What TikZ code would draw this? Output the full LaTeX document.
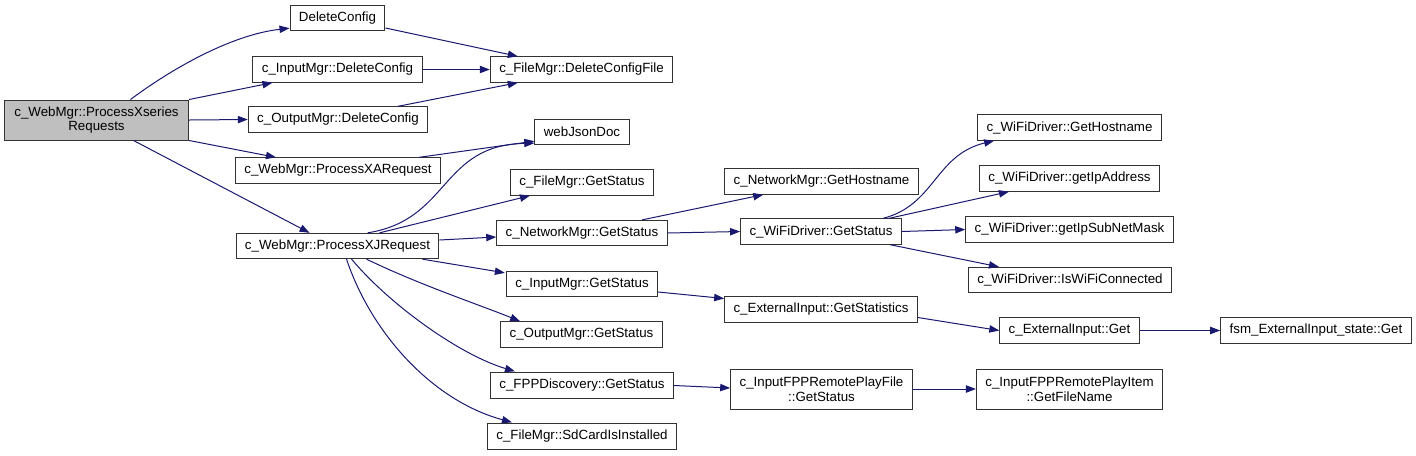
\documentclass[tikz,border=0pt]{standalone}
\usepackage{fontspec}
\setmainfont{Liberation Sans}
\usepackage{tikz}
\usetikzlibrary{arrows.meta, calc}
\definecolor{edgeblue}{HTML}{191970}

\begin{document}
\begin{tikzpicture}[x=0.75pt, y=-0.75pt]
\tikzstyle{func} = [rectangle, draw=black!80, line width=0.75pt, fill=white, font=\fontsize{10}{11}\selectfont, inner xsep=6.7pt, inner ysep=0pt, minimum height=19pt, align=center]
\tikzstyle{rootfunc} = [func, fill=black!25, minimum height=30pt, inner xsep=7.5pt]
\tikzstyle{twoline} = [minimum height=30pt]
\tikzstyle{call} = [draw=edgeblue, line width=0.75pt, -{Triangle[length=7.5pt, width=5.5pt]}]

\useasboundingbox (0,0) rectangle (1416,455);

% first column
\node (root) [rootfunc] at (96.5,120) {c\_WebMgr::ProcessXseries\\Requests};

% second column
\node (dc) [func] at (337.5,18) {DeleteConfig};
\node (imdc) [func] at (337.5,69.5) {c\_InputMgr::DeleteConfig};
\node (omdc) [func] at (338,119.5) {c\_OutputMgr::DeleteConfig};
\node (xa) [func] at (338,170.5) {c\_WebMgr::ProcessXARequest};
\node (xj) [func] at (337.5,246) {c\_WebMgr::ProcessXJRequest};

% third column
\node (dcf) [func] at (581.5,69.5) {c\_FileMgr::DeleteConfigFile};
\node (json) [func] at (582,132) {webJsonDoc};
\node (fmgs) [func] at (582,182.5) {c\_FileMgr::GetStatus};
\node (nmgs) [func] at (582,233) {c\_NetworkMgr::GetStatus};
\node (imgs) [func] at (582,284) {c\_InputMgr::GetStatus};
\node (omgs) [func] at (581.5,334.5) {c\_OutputMgr::GetStatus};
\node (fppgs) [func] at (582,385.5) {c\_FPPDiscovery::GetStatus};
\node (sd) [func] at (582,436.5) {c\_FileMgr::SdCardIsInstalled};

% fourth column
\node (nmgh) [func] at (821.5,181.5) {c\_NetworkMgr::GetHostname};
\node (wfgs) [func] at (821,231.5) {c\_WiFiDriver::GetStatus};
\node (gstat) [func] at (821,309.5) {c\_ExternalInput::GetStatistics};
\node (rpf) [func, twoline] at (821.5,389) {c\_InputFPPRemotePlayFile\\::GetStatus};

% fifth column
\node (wgh) [func] at (1069.5,127.5) {c\_WiFiDriver::GetHostname};
\node (wip) [func] at (1069.5,178.5) {c\_WiFiDriver::getIpAddress};
\node (wsub) [func] at (1069.5,229.5) {c\_WiFiDriver::getIpSubNetMask};
\node (wcon) [func] at (1070,280) {c\_WiFiDriver::IsWiFiConnected};
\node (eig) [func] at (1069.5,330.5) {c\_ExternalInput::Get};
\node (rpi) [func, twoline] at (1069.5,389) {c\_InputFPPRemotePlayItem\\::GetFileName};

% last column
\node (fsm) [func] at (1316,330.5) {fsm\_ExternalInput\_state::Get};

% calls from the root
\draw [call] ($(root.north)+(34,0)$) .. controls (170,70) and (230,35) .. ($(dc.south west)+(0,-3)$);
\draw [call] (root.north east) -- ($(imdc.south west)+(20,0)$);
\draw [call] (root.east) -- (omdc.west);
\draw [call] (root.south east) -- ($(xa.north west)+(41,0)$);
\draw [call] ($(root.south)+(37,0)$) -- ($(xj.north west)+(74,0)$);

% delete config
\draw [call] ($(dc.east)+(0,10)$) -- ($(dcf.north west)+(28,0)$);
\draw [call] (imdc.east) -- (dcf.west);
\draw [call] ($(omdc.north west)+(150,0)$) -- ($(dcf.south west)+(28,0)$);

% status requests
\draw [call] ($(xa.north west)+(184,0)$) -- ($(json.south west)+(0,-4)$);
\draw [call] ($(xj.north west)+(132,0)$) .. controls (450,220) and (440,145) .. ($(json.south west)+(0,-2)$);
\draw [call] ($(xj.north west)+(144,0)$) -- ($(fmgs.south west)+(20,0)$);
\draw [call] ($(xj.east)+(0,-6)$) -- ($(nmgs.west)+(0,4)$);
\draw [call] ($(xj.south east)+(-17,0)$) -- ($(imgs.north west)+(-1,2)$);
\draw [call] ($(xj.south west)+(131,0)$) .. controls (420,285) and (480,305) .. ($(omgs.north west)+(20,0)$);
\draw [call] ($(xj.south west)+(116,0)$) .. controls (390,305) and (460,355) .. ($(fppgs.north west)+(25,-1)$);
\draw [call] ($(xj.south west)+(111,0)$) .. controls (370,330) and (430,400) .. ($(sd.north west)+(25,-1)$);

% network and wifi
\draw [call] ($(nmgs.north west)+(146,0)$) -- ($(nmgh.south west)+(39,0)$);
\draw [call] (nmgs.east) -- (wfgs.west);
\draw [call] ($(wfgs.north west)+(143,0)$) .. controls (935,205) and (935,155) .. ($(wgh.south west)+(17,0)$);
\draw [call] ($(wfgs.north west)+(149,0)$) -- ($(wip.south west)+(30,0)$);
\draw [call] (wfgs.east) -- (wsub.west);
\draw [call] ($(wfgs.south east)+(-12,0)$) -- ($(wcon.north west)+(31,0)$);

% inputs
\draw [call] ($(imgs.east)+(0,8)$) -- ($(gstat.west)+(0,-11)$);
\draw [call] ($(gstat.east)+(0,8)$) -- (eig.west);
\draw [call] (eig.east) -- (fsm.west);
\draw [call] (fppgs.east) -- ($(rpf.west)+(0,-1)$);
\draw [call] (rpf.east) -- (rpi.west);
\end{tikzpicture}
\end{document}
